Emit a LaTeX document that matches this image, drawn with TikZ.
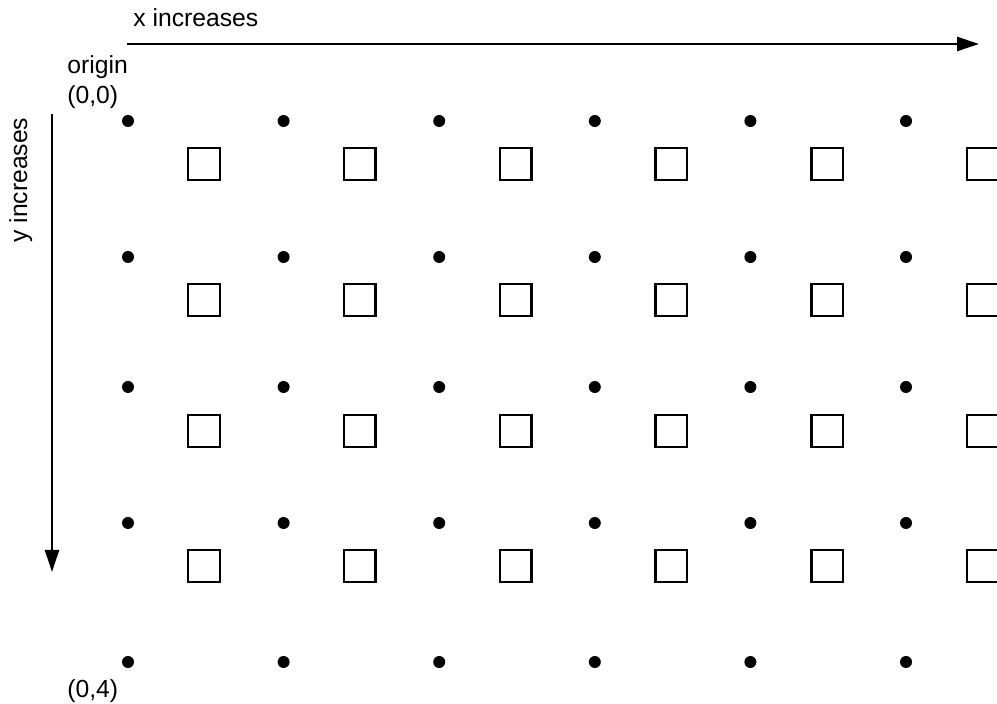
\documentclass[tikz,border=0pt]{standalone}
\usepackage{fontspec}
\setmainfont{Liberation Sans}
\usetikzlibrary{arrows.meta, positioning}

\begin{document}
\begin{tikzpicture}[x=0.5pt, y=-0.5pt,
    lbl/.style={font=\fontsize{12.35}{14}\selectfont, inner sep=0pt},
    gridpt/.style={circle, fill=black, inner sep=0pt, minimum size=6pt},
    cell/.style={draw, line width=1.25pt, inner sep=0pt, minimum size=15.8pt},
    axis/.style={line width=1.3pt, -{Triangle[length=11pt, width=7pt]}}]
    \clip (0, 0) rectangle (997, 704);
    % axes
    \coordinate (xtail) at (127, 44);
    \coordinate (xhead) at (979, 44);
    \coordinate (ytail) at (52, 114);
    \coordinate (yhead) at (52, 572);
    \draw[axis] (xtail) -- (xhead);
    \draw[axis] (ytail) -- (yhead);
    \node[lbl, anchor=base west] (xlab) at (133, 27) {x increases};
    \node[lbl, anchor=base west, rotate=90] (ylab) at (27, 243) {y increases};
    \node[lbl, anchor=base west] (orig) at (67, 74) {origin};
    \node[lbl, anchor=base west] (zero) at (67, 104) {(0,0)};
    \node[lbl, anchor=base west] (four) at (67, 698) {(0,4)};
    % pixel corners
    \foreach \c in {0,...,5}
      \foreach \r/\y in {0/121, 1/257, 2/387, 3/523, 4/662}
        \node[gridpt] (d\c\r) at (128 + 155.6*\c, \y) {};
    % pixel cells
    \foreach \c in {0,...,5}
      \foreach \r/\y in {0/164, 1/300, 2/431, 3/566}
        \node[cell] (s\c\r) at (204 + 155.8*\c, \y) {};
\end{tikzpicture}
\end{document}
